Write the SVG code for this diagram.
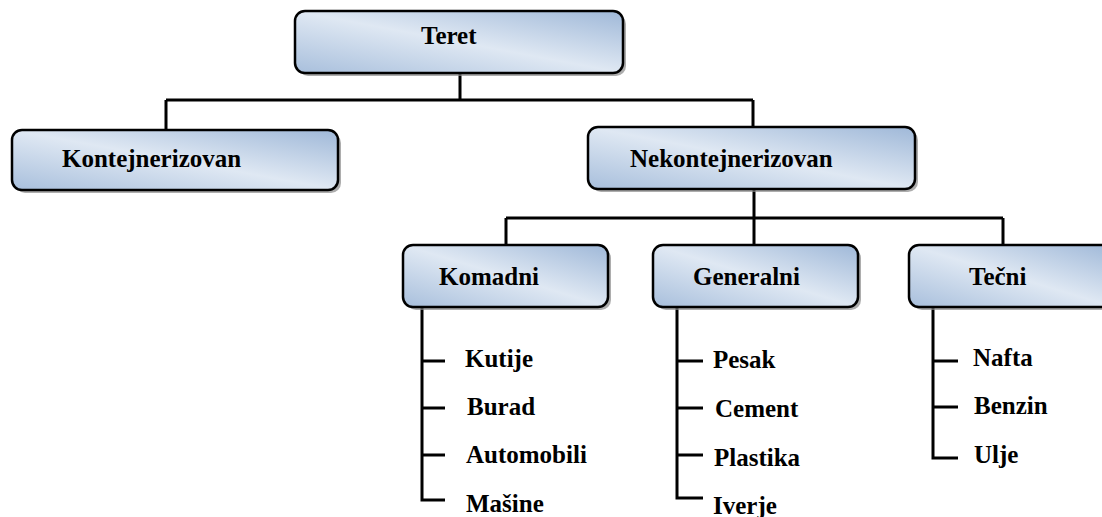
<svg xmlns="http://www.w3.org/2000/svg" width="1102" height="517" viewBox="0 0 1102 517">
<defs>
<linearGradient id="g" x1="0" y1="1" x2="1" y2="0">
<stop offset="0" stop-color="#a8bfdc"/>
<stop offset="0.5" stop-color="#dfe8f3"/>
<stop offset="1" stop-color="#9fb8d8"/>
</linearGradient>
<style>
.box{fill:url(#g);stroke:#000;stroke-width:2.5}
.sh{fill:#8a8a8a;opacity:0.7}
.t{font-family:"Liberation Serif","Times New Roman",serif;font-weight:bold;font-size:25px;fill:#000}
.c{fill:none;stroke:#000;stroke-width:3}
</style>
</defs>
<g id="connectors">
<path class="c" d="M460 73V100M166 100H753M166 100V130M753 100V127"/>
<path class="c" d="M754 189V245M506 218H1003M506 218V245M1003 218V245"/>
<path class="c" d="M422 307V500H445M422 361H445M422 408H445M422 455H445"/>
<path class="c" d="M677 307V498H703M677 361H703M677 408H703M677 455H703"/>
<path class="c" d="M933 307V458H958M933 361H958M933 407H958"/>
</g>
<g id="teret">
<rect class="sh" x="298" y="14" width="328" height="62" rx="10"/>
<rect class="box" x="295" y="11" width="328" height="62" rx="10"/>
<text class="t" x="421" y="44">Teret</text>
</g>
<g id="kontejnerizovan">
<rect class="sh" x="15" y="133" width="326" height="60" rx="10"/>
<rect class="box" x="12" y="130" width="326" height="60" rx="10"/>
<text class="t" x="62" y="167">Kontejnerizovan</text>
</g>
<g id="nekontejnerizovan">
<rect class="sh" x="591" y="130" width="327" height="62" rx="10"/>
<rect class="box" x="588" y="127" width="327" height="62" rx="10"/>
<text class="t" x="630" y="167">Nekontejnerizovan</text>
</g>
<g id="komadni">
<rect class="sh" x="406" y="248" width="205" height="62" rx="10"/>
<rect class="box" x="403" y="245" width="205" height="62" rx="10"/>
<text class="t" x="439" y="285">Komadni</text>
</g>
<g id="generalni">
<rect class="sh" x="656" y="248" width="205" height="62" rx="10"/>
<rect class="box" x="653" y="245" width="205" height="62" rx="10"/>
<text class="t" x="693" y="285">Generalni</text>
</g>
<g id="tecni">
<rect class="sh" x="912" y="248" width="205" height="62" rx="10"/>
<rect class="box" x="909" y="245" width="205" height="62" rx="10"/>
<text class="t" x="969" y="285">Tečni</text>
</g>
<g id="leaves-komadni">
<text class="t" x="465" y="367">Kutije</text>
<text class="t" x="467" y="415">Burad</text>
<text class="t" x="466" y="463">Automobili</text>
<text class="t" x="466" y="512">Mašine</text>
</g>
<g id="leaves-generalni">
<text class="t" x="713" y="368">Pesak</text>
<text class="t" x="715" y="417">Cement</text>
<text class="t" x="714" y="466">Plastika</text>
<text class="t" x="713" y="514">Iverje</text>
</g>
<g id="leaves-tecni">
<text class="t" x="973" y="366">Nafta</text>
<text class="t" x="974" y="414">Benzin</text>
<text class="t" x="974" y="463">Ulje</text>
</g>
</svg>
